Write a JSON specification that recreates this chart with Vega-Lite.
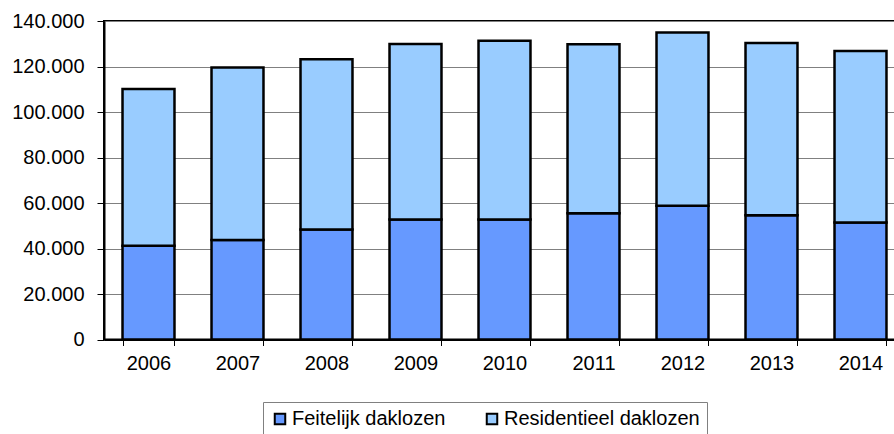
{
  "$schema": "https://vega.github.io/schema/vega-lite/v6.json",
  "autosize": {"type": "none"},
  "padding": {"left": 104, "top": 21, "right": 0, "bottom": 95},
  "width": 801,
  "height": 318.5,
  "background": "white",
  "config": {
    "font": "Liberation Sans",
    "locale": {"number": {"decimal": ",", "thousands": ".", "grouping": [3], "currency": ["€", ""]}},
    "view": {"stroke": "black", "strokeWidth": 2}
  },
  "data": {
    "values": [
      {"year": "2006", "series": "Feitelijk daklozen", "value": 41200},
      {"year": "2006", "series": "Residentieel daklozen", "value": 68900},
      {"year": "2007", "series": "Feitelijk daklozen", "value": 43700},
      {"year": "2007", "series": "Residentieel daklozen", "value": 75900},
      {"year": "2008", "series": "Feitelijk daklozen", "value": 48400},
      {"year": "2008", "series": "Residentieel daklozen", "value": 74800},
      {"year": "2009", "series": "Feitelijk daklozen", "value": 52700},
      {"year": "2009", "series": "Residentieel daklozen", "value": 77200},
      {"year": "2010", "series": "Feitelijk daklozen", "value": 52700},
      {"year": "2010", "series": "Residentieel daklozen", "value": 78600},
      {"year": "2011", "series": "Feitelijk daklozen", "value": 55500},
      {"year": "2011", "series": "Residentieel daklozen", "value": 74300},
      {"year": "2012", "series": "Feitelijk daklozen", "value": 58800},
      {"year": "2012", "series": "Residentieel daklozen", "value": 76200},
      {"year": "2013", "series": "Feitelijk daklozen", "value": 54600},
      {"year": "2013", "series": "Residentieel daklozen", "value": 75700},
      {"year": "2014", "series": "Feitelijk daklozen", "value": 51400},
      {"year": "2014", "series": "Residentieel daklozen", "value": 75400}
    ]
  },
  "mark": {"type": "bar", "stroke": "black", "strokeWidth": 2.5},
  "encoding": {
    "x": {
      "field": "year",
      "type": "ordinal",
      "scale": {"paddingInner": 0.416, "paddingOuter": 0.208},
      "axis": {
        "title": null,
        "labelAngle": 0,
        "labelFontSize": 20,
        "labelColor": "black",
        "labelPadding": 8,
        "tickBand": "extent",
        "tickColor": "black",
        "tickSize": 6,
        "tickWidth": 1,
        "domainColor": "black",
        "domainWidth": 2
      }
    },
    "y": {
      "field": "value",
      "type": "quantitative",
      "stack": "zero",
      "scale": {"domain": [0, 140000], "nice": false},
      "axis": {
        "title": null,
        "values": [0, 20000, 40000, 60000, 80000, 100000, 120000, 140000],
        "format": ",d",
        "labelFontSize": 20,
        "labelColor": "black",
        "labelPadding": 13,
        "tickColor": "black",
        "tickSize": 7,
        "tickWidth": 1,
        "domainColor": "black",
        "domainWidth": 2,
        "grid": true,
        "gridColor": "#808080",
        "gridWidth": 1
      }
    },
    "color": {
      "field": "series",
      "type": "nominal",
      "scale": {"domain": ["Feitelijk daklozen", "Residentieel daklozen"], "range": ["#6699FF", "#99CCFF"]},
      "legend": {
        "title": null,
        "orient": "none",
        "direction": "horizontal",
        "legendX": 159,
        "legendY": 381,
        "padding": 7,
        "strokeColor": "#808080",
        "fillColor": "white",
        "symbolType": "square",
        "symbolSize": 110,
        "symbolStrokeColor": "black",
        "symbolStrokeWidth": 2,
        "symbolOpacity": 1,
        "labelFontSize": 20,
        "labelColor": "black",
        "labelOffset": 2,
        "labelLimit": 400,
        "columnPadding": 36
      }
    },
    "order": {"field": "series", "sort": "ascending"}
  }
}
